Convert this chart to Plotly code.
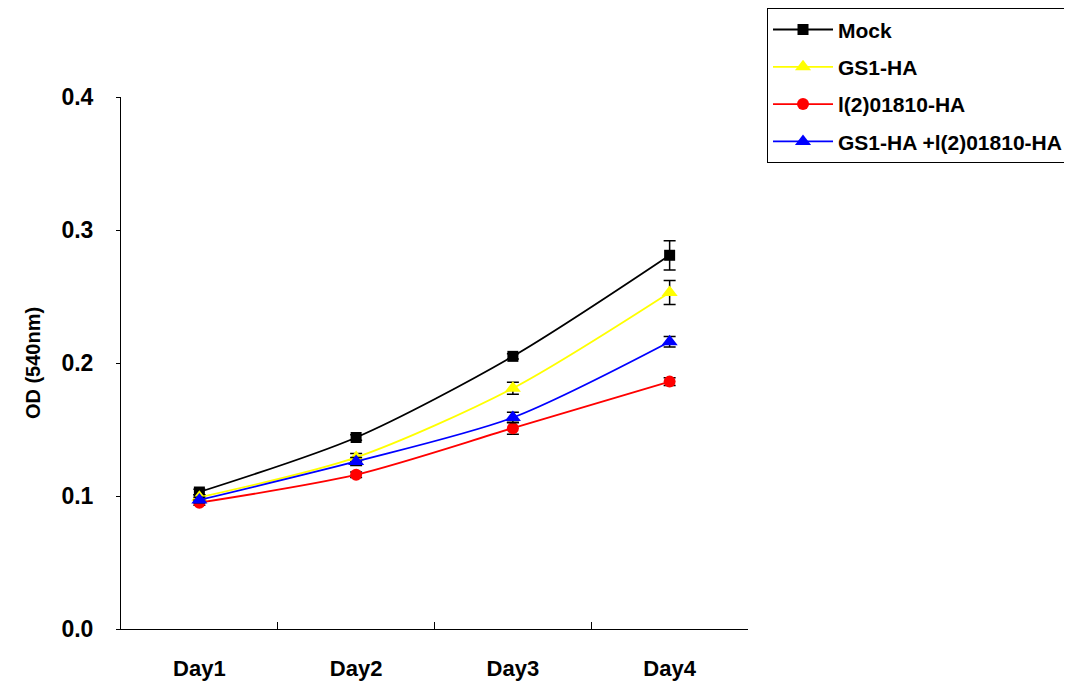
import plotly.graph_objects as go

days = ["Day1", "Day2", "Day3", "Day4"]
series_names = ["Mock", "GS1-HA", "l(2)01810-HA", "GS1-HA +l(2)01810-HA"]
mock = [0.103, 0.144, 0.205, 0.281]
mock_err = [0.002, 0.002, 0.002, 0.011]
gs1 = [0.099, 0.129, 0.181, 0.253]
gs1_err = [0.002, 0.003, 0.0045, 0.009]
l2 = [0.095, 0.116, 0.151, 0.186]
l2_err = [0.002, 0.002, 0.0045, 0.003]
combo = [0.097, 0.126, 0.159, 0.216]
combo_err = [0.002, 0.003, 0.004, 0.004]
y_ticks = [0.0, 0.1, 0.2, 0.3, 0.4]

styles = [
    ("black", "square", 11),
    ("yellow", "triangle-up", 14),
    ("red", "circle", 12),
    ("blue", "triangle-up", 14),
]
values = [mock, gs1, l2, combo]
errors = [mock_err, gs1_err, l2_err, combo_err]

FONT = "Liberation Sans, Arial, sans-serif"
fig = go.Figure()
for name, vals, errs, (col, sym, sz) in zip(series_names, values, errors, styles):
    fig.add_trace(go.Scatter(
        x=days, y=vals, name=name, mode="lines+markers", legendgroup=name,
        line=dict(color=col, width=1.8, shape="spline", smoothing=0.8),
        marker=dict(color=col, symbol=sym, size=sz),
        error_y=dict(type="data", array=errs, visible=True, color="black",
                     thickness=1.5, width=6),
    ))

fig.update_layout(
    width=1072, height=691,
    margin=dict(l=113, r=332, t=89, b=70, autoexpand=False),
    plot_bgcolor="white", paper_bgcolor="white",
    font=dict(family=FONT, color="black"),
    showlegend=True,
    legend=dict(
        x=1.03, y=1.167, xanchor="left", yanchor="top",
        bordercolor="black", borderwidth=1.2,
        font=dict(family=FONT, size=21, weight="bold", color="black"),
        tracegroupgap=7, itemwidth=60,
    ),
    xaxis=dict(
        type="category", range=[-0.5, 3.5], tickson="boundaries",
        ticks="inside", ticklen=7, tickcolor="black",
        showline=True, linecolor="black", linewidth=1,
        showgrid=False, zeroline=False, automargin=False,
        tickfont=dict(family=FONT, size=22, weight="bold"),
        ticklabelstandoff=20,
    ),
    yaxis=dict(
        range=[0, 0.4], tickvals=y_ticks, ticktext=[f"{v:.1f}" for v in y_ticks],
        ticks="outside", ticklen=4, tickcolor="black",
        showline=True, linecolor="black", linewidth=1,
        showgrid=False, zeroline=False, automargin=False,
        tickfont=dict(family=FONT, size=23, weight="bold"),
        ticklabelstandoff=18,
        title=dict(text="OD (540nm)", font=dict(family=FONT, size=20, weight="bold"), standoff=15),
    ),
)

fig.write_html("out.html")
